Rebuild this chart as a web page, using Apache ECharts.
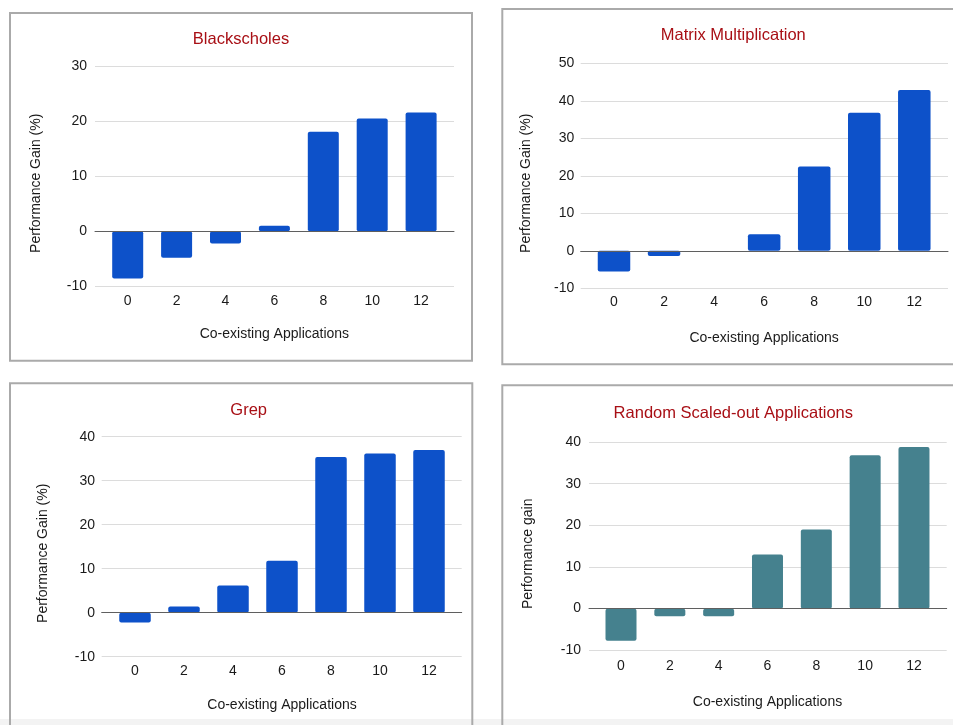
<!DOCTYPE html>
<html>
<head>
<meta charset="utf-8">
<script src="https://cdn.jsdelivr.net/npm/echarts@6/dist/echarts.min.js"></script>
<style>
html,body{margin:0;padding:0;background:#fff;}
#c{width:953px;height:725px;}
</style>
</head>
<body>
<div id="c"></div>
<script>
// ---- data ----
const categories = ['0', '2', '4', '6', '8', '10', '12'];
const titles = ['Blackscholes', 'Matrix Multiplication', 'Grep', 'Random Scaled-out Applications'];
const yNames = ['Performance Gain (%)', 'Performance Gain (%)', 'Performance Gain (%)', 'Performance gain'];
const xName = 'Co-existing Applications';
const blackscholes = [-8.6, -4.8, -2.2, 1.0, 18.1, 20.5, 21.6];
const matrixMult = [-5.5, -1.4, 0, 4.4, 22.5, 36.8, 42.9];
const grep = [-2.2, 1.4, 6.2, 11.8, 35.4, 36.2, 37.0];
const randomScaled = [-7.7, -1.8, -1.8, 13.0, 19.0, 36.8, 38.8];
const yMins = [-10, -10, -10, -10];
const yMaxs = [30, 50, 40, 40];
const yStep = 10;

// ---- layout / style ----
const FONT = '"Liberation Sans", Arial, sans-serif';
const seriesData = [blackscholes, matrixMult, grep, randomScaled];
const colors = ['#0d51c9', '#0d51c9', '#0d51c9', '#45818e'];
const L = [
  {plotL: 95, plotR: 454, top: 66.3, bot: 286.3, cat0: 127.7, sp: 48.9, bw: 31, ylm: 8, xlm: 7.4, xng: 40.7,
   title: [241, 39.5], yname: [36, 183.3], box: [10, 13, 462, 347.7]},
  {plotL: 580.7, plotR: 948, top: 63.3, bot: 288.3, cat0: 614, sp: 50.05, bw: 32.5, ylm: 6.4, xlm: 7, xng: 42.4,
   title: [733.3, 35.7], yname: [525.7, 183.3], box: [502.3, 9, 470, 355.3]},
  {plotL: 101.7, plotR: 461.7, top: 436.7, bot: 656.7, cat0: 135, sp: 49, bw: 31.5, ylm: 6.7, xlm: 7, xng: 41.3,
   title: [248.7, 410], yname: [43.3, 553.3], box: [10, 383.3, 462.3, 360]},
  {plotL: 589, plotR: 946.7, top: 442, bot: 650.3, cat0: 621, sp: 48.83, bw: 31, ylm: 8, xlm: 8.4, xng: 45,
   title: [733.3, 413.7], yname: [528.3, 553.8], box: [502.3, 385.3, 470, 360]}
];

const grid = [], xAxis = [], yAxis = [], series = [], graphic = [];

graphic.push({type: 'rect', shape: {x: 0, y: 719, width: 953, height: 6}, style: {fill: '#f3f3f3'}, z: -10});

L.forEach((p, i) => {
  const gBg = 2 * i, gBar = 2 * i + 1;
  grid.push({left: p.plotL, top: p.top, width: p.plotR - p.plotL, height: p.bot - p.top});
  const barLeft = p.cat0 - p.sp / 2;
  grid.push({left: barLeft, top: p.top, width: p.sp * 7, height: p.bot - p.top});

  xAxis.push({
    gridIndex: gBg, type: 'category', data: categories, z: 5,
    axisLine: {show: true, onZero: true, lineStyle: {color: '#5f5f5f', width: 1}},
    axisTick: {show: false}, axisLabel: {show: false}, splitLine: {show: false}
  });
  xAxis.push({
    gridIndex: gBar, type: 'category', data: categories,
    axisLine: {show: false, onZero: false}, axisTick: {show: false},
    axisLabel: {color: '#1a1a1a', fontSize: 14, fontFamily: FONT, margin: p.xlm},
    name: xName, nameLocation: 'middle', nameGap: p.xng,
    nameTextStyle: {color: '#1a1a1a', fontSize: 14, fontFamily: FONT}
  });
  yAxis.push({
    gridIndex: gBg, type: 'value', min: yMins[i], max: yMaxs[i], interval: yStep,
    axisLine: {show: false}, axisTick: {show: false},
    axisLabel: {color: '#1a1a1a', fontSize: 14, fontFamily: FONT, margin: p.ylm},
    splitLine: {lineStyle: {color: '#dcdcdc', width: 1}}
  });
  yAxis.push({
    gridIndex: gBar, type: 'value', min: yMins[i], max: yMaxs[i], interval: yStep, show: false
  });
  series.push({
    type: 'bar', xAxisIndex: gBar, yAxisIndex: gBar, data: seriesData[i],
    barWidth: p.bw, itemStyle: {color: colors[i], borderRadius: 2}, z: 2
  });

  graphic.push({type: 'rect', shape: {x: p.box[0], y: p.box[1], width: p.box[2], height: p.box[3]},
    style: {fill: null, stroke: '#aaaaaa', lineWidth: 2}, z: -5});
  graphic.push({type: 'text', x: p.title[0], y: p.title[1],
    style: {text: titles[i], fill: '#a80f15', font: '16.5px ' + FONT, textAlign: 'center', textVerticalAlign: 'middle'}});
  graphic.push({type: 'text', x: p.yname[0], y: p.yname[1], rotation: Math.PI / 2,
    style: {text: yNames[i], fill: '#1a1a1a', font: '14px ' + FONT, textAlign: 'center', textVerticalAlign: 'middle'}});
});

const chart = echarts.init(document.getElementById('c'), null, {renderer: 'canvas'});
chart.setOption({animation: false, backgroundColor: '#fff', grid, xAxis, yAxis, series, graphic});
</script>
</body>
</html>
